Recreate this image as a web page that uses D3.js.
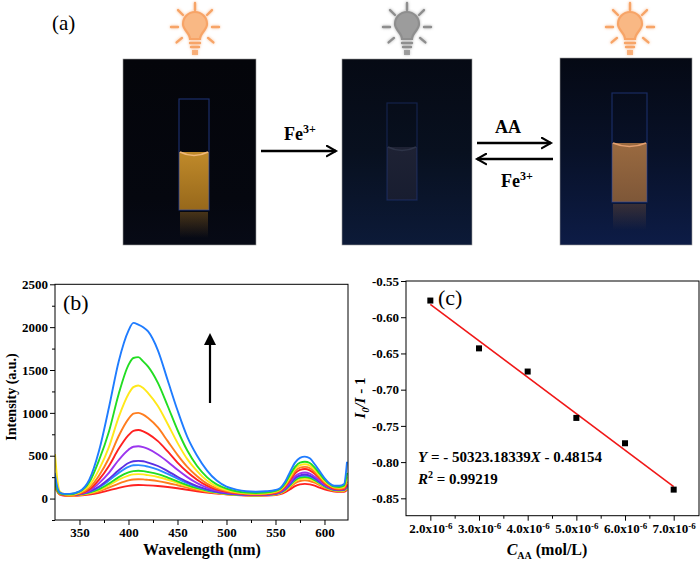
<!DOCTYPE html>
<html>
<head>
<meta charset="utf-8">
<script src="https://cdn.jsdelivr.net/npm/d3@7"></script>
<style>
body { margin: 0; background: #fff; }
svg text { font-family: "Liberation Serif", "Times New Roman", serif; }
.axis text { font-size: 13px; font-weight: bold; fill: #000; font-family: "Liberation Serif", "Times New Roman", serif; }
.axis line { stroke: #000; stroke-width: 1; }
</style>
</head>
<body>
<div id="chart"></div>
<script>
"use strict";

// ---- panel (b): emission spectra ----
var wavelengths = [325, 327, 330, 335, 340, 350, 360, 370, 380, 390,
    400, 405, 410, 415, 420, 430, 440, 450, 460, 470,
    480, 490, 500, 510, 520, 530, 540, 550, 555, 560,
    565, 570, 575, 580, 585, 590, 595, 600, 605, 610,
    615, 620, 623];

var red1 = [200,100,45,32,30,35,46,66,95,125, 148,155,158,157,154,146,135,120,103,86, 71,59,49,41,36,34,36,42,52,75, 110,145,165,172,166,150,128,108,92,82, 78,80,100];
var orange2 = [160,90,50,38,35,42,57,85,128,175, 212,223,226,224,218,204,182,155,127,101, 80,63,51,43,38,36,39,47,60,90, 135,180,205,212,205,185,157,127,105,91, 86,88,110];
var yellow3 = [250,130,60,42,38,45,64,100,155,220, 268,282,285,282,273,252,220,182,145,113, 87,68,54,45,40,38,41,50,65,98, 148,200,228,235,226,202,170,136,112,96, 91,94,120];
var green4 = [180,100,55,42,40,48,70,110,175,250, 305,320,325,320,310,285,245,200,158,122, 93,72,57,47,41,39,42,52,68,104, 158,215,245,252,242,216,180,143,117,100, 95,98,130];
var blue5 = [300,150,65,45,42,52,78,130,210,300, 370,388,390,385,372,338,288,232,180,136, 102,77,60,49,43,41,44,55,72,110, 168,230,262,270,258,230,190,150,122,103, 98,102,140];
var indigo6 = [220,120,60,42,40,50,80,140,230,330, 415,435,440,435,420,380,320,255,195,145, 108,80,62,50,44,42,45,56,75,115, 175,240,270,280,268,238,196,155,125,105, 100,105,150];
var violet7 = [170,100,55,42,40,52,90,180,300,450, 570,605,610,600,580,515,430,335,250,180, 128,92,70,55,47,44,47,60,80,125, 190,260,295,305,290,255,210,165,130,110, 105,110,160];
var red8 = [150,95,55,42,40,55,105,220,380,580, 740,790,800,785,755,670,550,420,310,220, 150,105,78,60,50,47,50,65,88,140, 215,295,335,345,330,290,235,180,140,115, 108,115,170];
var orange9 = [130,90,55,45,42,60,125,270,470,730, 930,990,1000,980,940,830,670,510,370,260, 175,120,88,68,56,52,56,72,95,150, 235,320,360,370,355,310,250,190,150,122, 115,125,200];
var yellow10 = [520,260,80,50,45,70,150,340,600,950, 1220,1300,1320,1290,1230,1080,870,650,460,320, 210,140,100,75,62,58,62,80,105,165, 255,345,390,400,385,335,270,205,160,130, 125,140,250];
var green11 = [200,110,60,50,50,80,190,450,780,1220, 1560,1640,1650,1600,1540,1350,1080,800,560,380, 250,165,115,85,70,65,70,90,115,180, 280,370,420,430,415,360,290,220,170,140, 135,150,300];
var blue12 = [280,150,70,55,55,85,220,560,1060,1600, 1960,2050,2030,2000,1950,1730,1380,1030,720,500, 330,210,140,105,85,80,85,100,125,200, 315,420,475,490,470,400,320,240,180,150, 150,170,430];

var spectra = [red1, orange2, yellow3, green4, blue5, indigo6, violet7, red8, orange9, yellow10, green11, blue12];
var spectraColors = ["#ff2121", "#ff7d1e", "#ffe81a", "#22dd22", "#2a8cff", "#5b2fe3",
                     "#9b35ee", "#ff2121", "#ff7d1e", "#ffe81a", "#22dd22", "#1f7cff"];

var intensityTicks = [0, 500, 1000, 1500, 2000, 2500];
var intensityMinor = [-250, 250, 750, 1250, 1750, 2250];
var wavelengthTicks = [350, 400, 450, 500, 550, 600];
var wavelengthMinor = [375, 425, 475, 525, 575];

// ---- panel (c): linear fit ----
var concentrations = [2e-6, 3e-6, 4e-6, 5e-6, 6e-6, 7e-6];
var quenchRatios = [-0.577, -0.643, -0.675, -0.739, -0.774, -0.838];
var fitSlope = -50323.18339;
var fitIntercept = -0.48154;
var fitR2 = "0.99219";
var ratioTicks = [-0.85, -0.80, -0.75, -0.70, -0.65, -0.60, -0.55];
var concTicks = [2e-6, 3e-6, 4e-6, 5e-6, 6e-6, 7e-6];
var concMinor = [2.5e-6, 3.5e-6, 4.5e-6, 5.5e-6, 6.5e-6];

var SERIF = "'Liberation Serif', 'Times New Roman', serif";

var svg = d3.select("#chart").append("svg")
    .attr("width", 700)
    .attr("height", 563);

var defs = svg.append("defs");
var glow = defs.append("filter").attr("id", "glow")
    .attr("x", "-50%").attr("y", "-50%").attr("width", "200%").attr("height", "200%");
glow.append("feGaussianBlur").attr("stdDeviation", 1.6);

function vGradient(id, stops) {
    var g = defs.append("linearGradient").attr("id", id)
        .attr("x1", 0).attr("y1", 0).attr("x2", 0).attr("y2", 1);
    stops.forEach(function(s) {
        g.append("stop").attr("offset", s[0]).attr("stop-color", s[1])
            .attr("stop-opacity", s[2] === undefined ? 1 : s[2]);
    });
}
vGradient("bg1", [[0, "#04050a"], [0.75, "#05070f"], [1, "#070a16"]]);
vGradient("bg2", [[0, "#060a14"], [0.5, "#08101f"], [1, "#0c1a38"]]);
vGradient("bg3", [[0, "#050914"], [0.5, "#081128"], [1, "#0d1c46"]]);
vGradient("liq1", [[0, "#c08a2a"], [1, "#97681b"]]);
vGradient("liq2", [[0, "#1e2234"], [1, "#181d30"]]);
vGradient("liq3", [[0, "#9a6a40"], [1, "#7e5738"]]);
vGradient("refl1", [[0, "#8a6020", 0.5], [1, "#8a6020", 0]]);
vGradient("refl3", [[0, "#6e4c34", 0.45], [1, "#6e4c34", 0]]);

// ---------- panel (a) ----------
var gA = svg.append("g").attr("id", "panel_a");

gA.append("text").attr("x", 52).attr("y", 30)
    .style("font-size", "21px").text("(a)");

var photos = [
    { x: 123, y: 59, w: 133, h: 186, bg: "bg1", cx: 179, cw: 30, ct: 99, cb: 210, lt: 152, liq: "liq1", men: "#f0b878", refl: "refl1", lamp: "#f7a467", lampFill: "#f9b884", lx: 195, edge: 0.6 },
    { x: 342, y: 59, w: 130, h: 186, bg: "bg2", cx: 387, cw: 30, ct: 103, cb: 200, lt: 147, liq: "liq2", men: "#2e3448", refl: null, lamp: "#8e8e8e", lampFill: "#9c9c9c", lx: 407, edge: 0.35 },
    { x: 560, y: 58, w: 132, h: 187, bg: "bg3", cx: 612, cw: 35, ct: 93, cb: 202, lt: 143, liq: "liq3", men: "#e4a070", refl: "refl3", lamp: "#f7a467", lampFill: "#f9b884", lx: 630, edge: 0.5 }
];

photos.forEach(function(p) {
    gA.append("rect").attr("x", p.x).attr("y", p.y).attr("width", p.w).attr("height", p.h)
        .attr("fill", "url(#" + p.bg + ")").attr("stroke", "#9a9a9a").attr("stroke-width", 0.6);
    if (p.refl) {
        gA.append("rect").attr("x", p.cx + 1).attr("y", p.cb + 2).attr("width", p.cw - 2).attr("height", 26)
            .attr("fill", "url(#" + p.refl + ")");
    }
    gA.append("rect").attr("x", p.cx).attr("y", p.lt).attr("width", p.cw).attr("height", p.cb - p.lt)
        .attr("fill", "url(#" + p.liq + ")");
    gA.append("path")
        .attr("d", "M" + (p.cx + 1) + "," + p.lt + " Q" + (p.cx + p.cw / 2) + "," + (p.lt + 7) + " " + (p.cx + p.cw - 1) + "," + p.lt)
        .attr("fill", "none").attr("stroke", p.men).attr("stroke-width", 1.6);
    gA.append("rect").attr("x", p.cx).attr("y", p.ct).attr("width", p.cw).attr("height", p.cb - p.ct)
        .attr("fill", "none").attr("stroke", "#2c4aa8").attr("stroke-opacity", p.edge).attr("stroke-width", 1.2);
    drawBulb(p.lx, 27, p.lamp, p.lampFill);
});

function drawBulb(cx, cy, color, fill) {
    var b = gA.append("g").attr("transform", "translate(" + cx + "," + cy + ")");
    var layers = [b.append("g").attr("filter", "url(#glow)").attr("opacity", 0.7), b.append("g")];
    layers.forEach(function(g) {
        [-90, -45, -135, 0, 180, 40, 140].forEach(function(a) {
            var r = a * Math.PI / 180;
            g.append("line")
                .attr("x1", 17 * Math.cos(r)).attr("y1", 17 * Math.sin(r))
                .attr("x2", 24 * Math.cos(r)).attr("y2", 24 * Math.sin(r))
                .attr("stroke", color).attr("stroke-width", 2.4).attr("stroke-linecap", "round");
        });
        g.append("path")
            .attr("d", "M-5,12 C-5,6 -12,3 -12,-3 A12,12 0 1,1 12,-3 C12,3 5,6 5,12 Z")
            .attr("fill", fill).attr("stroke", color).attr("stroke-width", 2.2);
        g.append("line").attr("x1", -5).attr("y1", 16).attr("x2", 5).attr("y2", 16)
            .attr("stroke", color).attr("stroke-width", 2.4).attr("stroke-linecap", "round");
        g.append("line").attr("x1", -4).attr("y1", 20).attr("x2", 4).attr("y2", 20)
            .attr("stroke", color).attr("stroke-width", 2.4).attr("stroke-linecap", "round");
        g.append("rect").attr("x", -3).attr("y", 23).attr("width", 6).attr("height", 5)
            .attr("fill", color).attr("opacity", 0.8);
    });
}

defs.append("marker").attr("id", "head")
    .attr("viewBox", "0 0 10 10").attr("refX", 8).attr("refY", 5)
    .attr("markerWidth", 5).attr("markerHeight", 5).attr("orient", "auto-start-reverse")
    .append("path").attr("d", "M1,1 L8,5 L1,9").attr("fill", "none")
    .attr("stroke", "#000").attr("stroke-width", 1.6).attr("stroke-linecap", "round");

function arrow(x1, y1, x2, y2) {
    gA.append("line").attr("x1", x1).attr("y1", y1).attr("x2", x2).attr("y2", y2)
        .attr("stroke", "#000").attr("stroke-width", 2.6).attr("marker-end", "url(#head)");
}
arrow(261, 151, 336, 151);
arrow(477, 143, 551, 143);
arrow(553, 159, 477, 159);

function feLabel(x, y) {
    var t = gA.append("text").attr("x", x).attr("y", y).attr("text-anchor", "middle")
        .style("font-size", "18px").style("font-weight", "bold");
    t.append("tspan").text("Fe");
    t.append("tspan").attr("dy", -7).style("font-size", "12px").text("3+");
}
feLabel(300, 140);
feLabel(517, 187);
gA.append("text").attr("x", 508).attr("y", 133).attr("text-anchor", "middle")
    .style("font-size", "18px").style("font-weight", "bold").text("AA");

// axis helper: strip domain path and d3's default sans-serif font
function cleanAxis(g) {
    g.select(".domain").remove();
    g.attr("font-family", SERIF).attr("font-size", null);
    g.selectAll("text").style("font-family", SERIF);
}

// ---------- panel (b) ----------
var bBox = { left: 55, right: 348, top: 284.3, bottom: 520 };
var xB = d3.scaleLinear().domain([325, 624]).range([bBox.left, bBox.right]);
var yB = d3.scaleLinear().domain([-250, 2500]).range([bBox.bottom, bBox.top]);
var gB = svg.append("g").attr("id", "panel_b");

defs.append("clipPath").attr("id", "clipB").append("rect")
    .attr("x", bBox.left).attr("y", bBox.top)
    .attr("width", bBox.right - bBox.left).attr("height", bBox.bottom - bBox.top);

var line = d3.line()
    .x(function(d, i) { return xB(wavelengths[i]); })
    .y(function(d) { return yB(d); })
    .curve(d3.curveMonotoneX);

gB.append("g").attr("clip-path", "url(#clipB)")
    .selectAll("path").data(spectra).enter().append("path")
    .attr("d", line)
    .attr("fill", "none")
    .attr("stroke", function(d, i) { return spectraColors[i]; })
    .attr("stroke-width", 1.9);

gB.append("g").attr("class", "axis")
    .attr("transform", "translate(0," + bBox.bottom + ")")
    .call(d3.axisBottom(xB).tickValues(wavelengthTicks).tickSize(5).tickPadding(3).tickSizeOuter(0).tickFormat(d3.format("d")))
    .call(cleanAxis);
gB.append("g").attr("class", "axis")
    .attr("transform", "translate(0," + bBox.bottom + ")")
    .call(d3.axisBottom(xB).tickValues(wavelengthMinor).tickSize(3).tickFormat("").tickSizeOuter(0))
    .call(cleanAxis);
gB.append("g").attr("class", "axis")
    .attr("transform", "translate(" + bBox.left + ",0)")
    .call(d3.axisLeft(yB).tickValues(intensityTicks).tickSize(5).tickPadding(2).tickSizeOuter(0).tickFormat(d3.format("d")))
    .call(cleanAxis);
gB.append("g").attr("class", "axis")
    .attr("transform", "translate(" + bBox.left + ",0)")
    .call(d3.axisLeft(yB).tickValues(intensityMinor).tickSize(3).tickFormat("").tickSizeOuter(0))
    .call(cleanAxis);

gB.append("rect").attr("x", bBox.left).attr("y", bBox.top)
    .attr("width", bBox.right - bBox.left).attr("height", bBox.bottom - bBox.top)
    .attr("fill", "none").attr("stroke", "#000").attr("stroke-width", 1);

gB.append("text").attr("x", 202).attr("y", 555).attr("text-anchor", "middle")
    .style("font-size", "16px").style("font-weight", "bold").text("Wavelength (nm)");
gB.append("text").attr("transform", "translate(16,397) rotate(-90)").attr("text-anchor", "middle")
    .style("font-size", "14px").style("font-weight", "bold").text("Intensity (a.u.)");
gB.append("text").attr("x", 63).attr("y", 310)
    .style("font-size", "22px").text("(b)");

gB.append("line").attr("x1", 210).attr("y1", 403).attr("x2", 210).attr("y2", 343)
    .attr("stroke", "#000").attr("stroke-width", 2.2);
gB.append("path").attr("d", "M204,345 L210,333 L216,345 Z").attr("fill", "#000");

// ---------- panel (c) ----------
var cBox = { left: 406, right: 699, top: 281, bottom: 515.7 };
var xC = d3.scaleLinear().domain([1.5e-6, 7.52e-6]).range([cBox.left, cBox.right]);
var yC = d3.scaleLinear().domain([-0.874, -0.55]).range([cBox.bottom, cBox.top]);
var gC = svg.append("g").attr("id", "panel_c");

var xAxisC = gC.append("g").attr("class", "axis")
    .attr("transform", "translate(0," + cBox.bottom + ")")
    .call(d3.axisBottom(xC).tickValues(concTicks).tickSize(5).tickPadding(3).tickSizeOuter(0))
    .call(cleanAxis);
xAxisC.selectAll(".tick text").each(function(d) {
    var t = d3.select(this).text(null);
    t.append("tspan").text((d * 1e6).toFixed(1) + "x10");
    t.append("tspan").attr("dy", "-0.45em").style("font-size", "9px").text("-6");
});
gC.append("g").attr("class", "axis")
    .attr("transform", "translate(0," + cBox.bottom + ")")
    .call(d3.axisBottom(xC).tickValues(concMinor).tickSize(3).tickFormat("").tickSizeOuter(0))
    .call(cleanAxis);
gC.append("g").attr("class", "axis")
    .attr("transform", "translate(" + cBox.left + ",0)")
    .call(d3.axisLeft(yC).tickValues(ratioTicks).tickSize(5).tickPadding(2).tickSizeOuter(0)
        .tickFormat(function(d) { return d.toFixed(2); }))
    .call(cleanAxis);

gC.append("rect").attr("x", cBox.left).attr("y", cBox.top)
    .attr("width", cBox.right - cBox.left).attr("height", cBox.bottom - cBox.top)
    .attr("fill", "none").attr("stroke", "#000").attr("stroke-width", 1);

var xFit = d3.extent(concentrations);
gC.append("line")
    .attr("x1", xC(xFit[0])).attr("y1", yC(fitSlope * xFit[0] + fitIntercept))
    .attr("x2", xC(xFit[1])).attr("y2", yC(fitSlope * xFit[1] + fitIntercept))
    .attr("stroke", "#f01818").attr("stroke-width", 1.6);

gC.selectAll("rect.pt").data(concentrations).enter().append("rect")
    .attr("class", "pt")
    .attr("x", function(d) { return xC(d) - 3; })
    .attr("y", function(d, i) { return yC(quenchRatios[i]) - 3; })
    .attr("width", 6).attr("height", 6)
    .attr("fill", "#000");

gC.append("text").attr("x", 438).attr("y", 305)
    .style("font-size", "22px").text("(c)");

var eq = gC.append("text").attr("x", 418).attr("y", 462)
    .style("font-size", "15px").style("font-weight", "bold");
eq.append("tspan").style("font-style", "italic").text("Y");
eq.append("tspan").text(" = - " + Math.abs(fitSlope).toFixed(5));
eq.append("tspan").style("font-style", "italic").text("X");
eq.append("tspan").text(" - " + Math.abs(fitIntercept).toFixed(5));

var r2 = gC.append("text").attr("x", 418).attr("y", 484)
    .style("font-size", "15px").style("font-weight", "bold");
r2.append("tspan").style("font-style", "italic").text("R");
r2.append("tspan").attr("dy", -6).style("font-size", "10px").text("2");
r2.append("tspan").attr("dy", 6).text(" = " + fitR2);

var xl = gC.append("text").attr("x", 547).attr("y", 555).attr("text-anchor", "middle")
    .style("font-size", "16px").style("font-weight", "bold");
xl.append("tspan").style("font-style", "italic").text("C");
xl.append("tspan").attr("dy", 4).style("font-size", "10px").text("AA");
xl.append("tspan").attr("dy", -4).text(" (mol/L)");

var yl = gC.append("text").attr("transform", "translate(365,398) rotate(-90)").attr("text-anchor", "middle")
    .style("font-size", "15px").style("font-weight", "bold").style("font-style", "italic");
yl.append("tspan").text("I");
yl.append("tspan").attr("dy", 4).style("font-size", "10px").text("0");
yl.append("tspan").attr("dy", -4).text("/I");
yl.append("tspan").style("font-style", "normal").text(" - 1");
</script>
</body>
</html>
